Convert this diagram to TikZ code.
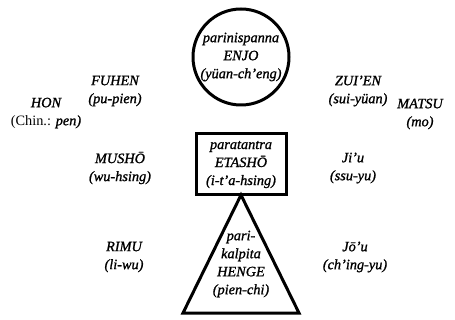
\documentclass[tikz,border=0pt]{standalone}
\usepackage{fontspec}
\setmainfont{Liberation Serif}[ItalicFeatures={FakeBold=1.2}]
\begin{document}
\begin{tikzpicture}[x=1pt,y=-1pt,
  lbl/.style={align=center,font=\itshape\fontsize{14.3}{18}\selectfont,inner sep=0pt},
  shp/.style={draw,line width=3pt,line join=miter}]
\useasboundingbox (0,0) rectangle (455,320);
\node[shp,circle,minimum size=96pt,inner sep=0pt] (enjo) at (241,57) {};
\node[shp,rectangle,minimum width=90pt,minimum height=61pt,inner sep=0pt] (etasho) at (241,164.5) {};
\coordinate (apex) at (241,195);
\coordinate (bl) at (183,313);
\coordinate (br) at (299,313);
\draw[shp] (apex) -- (bl) -- (br) -- cycle;
\node[lbl] (t1) at (enjo.center) {parinispanna\\ENJO\\(yüan-ch'eng)};
\node[lbl] (t2) at (etasho.center) {paratantra\\ETASHŌ\\(i-t'a-hsing)};
\node[lbl] (t3) at (241,264) {pari-\\kalpita\\HENGE\\(pien-chi)};
\node[lbl] (fuhen) at (115,91) {FUHEN\\(pu-pien)};
\node[lbl] (hon) at (46,113) {HON\\{\upshape (Chin.:} pen)};
\node[lbl] (musho) at (120,168) {MUSHŌ\\(wu-hsing)};
\node[lbl] (rimu) at (124,257) {RIMU\\(li-wu)};
\node[lbl] (zuien) at (358,91) {ZUI'EN\\(sui-yüan)};
\node[lbl] (matsu) at (420,114) {MATSU\\(mo)};
\node[lbl] (jiu) at (353,168) {Ji'u\\(ssu-yu)};
\node[lbl] (jou) at (355,257) {Jō'u\\(ch'ing-yu)};
\end{tikzpicture}
\end{document}
